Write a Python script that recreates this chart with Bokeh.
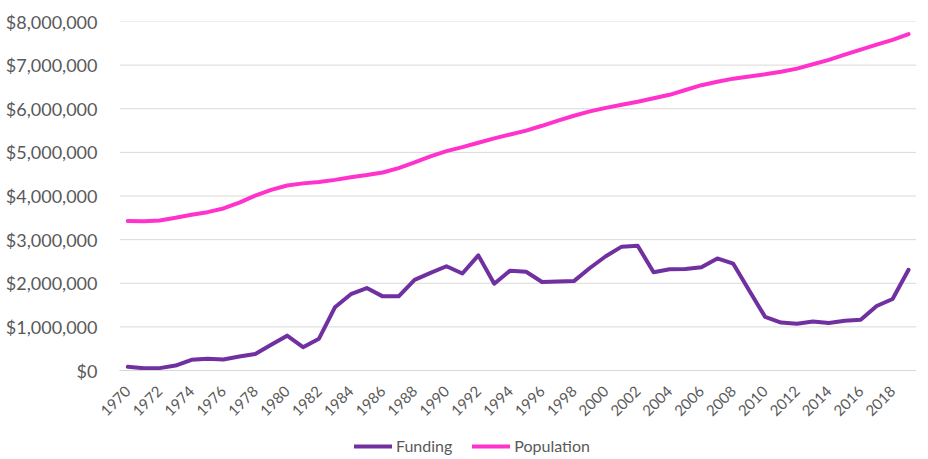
import math
from bokeh.plotting import figure
from bokeh.models import (ColumnDataSource, FixedTicker, NumeralTickFormatter,
                          Legend, LegendItem, Range1d)
from bokeh.embed import file_html
from bokeh.resources import INLINE

years = list(range(1970, 2020))
funding = [85000, 50000, 55000, 115000, 245000, 270000, 255000, 320000, 380000, 590000,
           800000, 535000, 730000, 1450000, 1750000, 1890000, 1700000, 1700000, 2080000, 2240000,
           2390000, 2225000, 2640000, 1990000, 2290000, 2265000, 2030000, 2040000, 2050000, 2350000,
           2620000, 2840000, 2860000, 2255000, 2320000, 2325000, 2365000, 2570000, 2450000, 1835000,
           1230000, 1100000, 1075000, 1125000, 1090000, 1140000, 1165000, 1480000, 1640000, 2310000]
population = [3430000, 3420000, 3440000, 3500000, 3570000, 3630000, 3715000, 3850000, 4010000, 4140000,
              4240000, 4290000, 4320000, 4370000, 4430000, 4480000, 4540000, 4640000, 4770000, 4910000,
              5030000, 5120000, 5220000, 5320000, 5410000, 5500000, 5610000, 5730000, 5840000, 5940000,
              6020000, 6090000, 6160000, 6240000, 6320000, 6430000, 6540000, 6620000, 6690000, 6740000,
              6790000, 6850000, 6920000, 7020000, 7120000, 7240000, 7355000, 7470000, 7580000, 7710000]
tick_years = list(range(1970, 2019, 2))
tick_labels = [str(y) for y in tick_years]
y_ticks = [0, 1000000, 2000000, 3000000, 4000000, 5000000, 6000000, 7000000, 8000000]

src = ColumnDataSource(dict(year=years, funding=funding, population=population))

x_lo = years[0] - 0.5
x_hi = years[-1] + 0.5

# frame extends left of the first category and below $0 so that the rotated
# tick labels and the legend are drawn inside it
p = figure(frame_width=819, frame_height=435, output_backend="svg", toolbar_location=None,
           x_range=Range1d(x_lo - 1.4, x_hi), y_range=Range1d(-1970000, 8000000),
           min_border_left=97, min_border_right=0, min_border_top=21,
           min_border_bottom=0)
p.outline_line_color = None
p.background_fill_color = "white"

grid_src = ColumnDataSource(dict(y=y_ticks, x0=[x_lo] * len(y_ticks), x1=[x_hi] * len(y_ticks)))
p.segment(x0="x0", y0="y", x1="x1", y1="y", source=grid_src,
          line_color="#D9D9D9", line_width=1, level="underlay")

r1 = p.line("year", "funding", source=src, line_color="#7030A0", line_width=4,
            line_join="round", line_cap="round")
r2 = p.line("year", "population", source=src, line_color="#FF33CC", line_width=4,
            line_join="round", line_cap="round")

font = "Lato"
p.xaxis.fixed_location = 0
p.xaxis.bounds = (x_lo, x_hi)
p.xaxis.ticker = FixedTicker(ticks=tick_years)
p.xaxis.major_label_overrides = {y: l for y, l in zip(tick_years, tick_labels)}
p.xaxis.major_label_orientation = math.pi / 4
p.xaxis.major_label_text_font = font
p.xaxis.major_label_text_font_size = "15px"
p.xaxis.major_label_text_color = "#595959"
p.xaxis.major_label_standoff = 12
p.xaxis.axis_line_color = "#D9D9D9"
p.xaxis.major_tick_line_color = None
p.xaxis.minor_tick_line_color = None

p.yaxis.ticker = FixedTicker(ticks=y_ticks)
p.yaxis.formatter = NumeralTickFormatter(format="$0,0")
p.yaxis.major_label_text_font = font
p.yaxis.major_label_text_font_size = "18px"
p.yaxis.major_label_text_color = "#595959"
p.yaxis.major_label_standoff = -6
p.yaxis.axis_line_color = None
p.yaxis.major_tick_line_color = None
p.yaxis.minor_tick_line_color = None

p.xgrid.grid_line_color = None
p.ygrid.grid_line_color = None

legend = Legend(items=[LegendItem(label="Funding", renderers=[r1]),
                       LegendItem(label="Population", renderers=[r2])],
                orientation="horizontal", location=(257, 1),
                label_text_font=font, label_text_font_size="16px",
                label_text_color="#595959", glyph_width=38, glyph_height=16,
                label_standoff=4, spacing=20, padding=0, margin=0,
                border_line_color=None, background_fill_alpha=0)
p.add_layout(legend, "center")

open("out.html", "w").write(file_html(p, INLINE))
